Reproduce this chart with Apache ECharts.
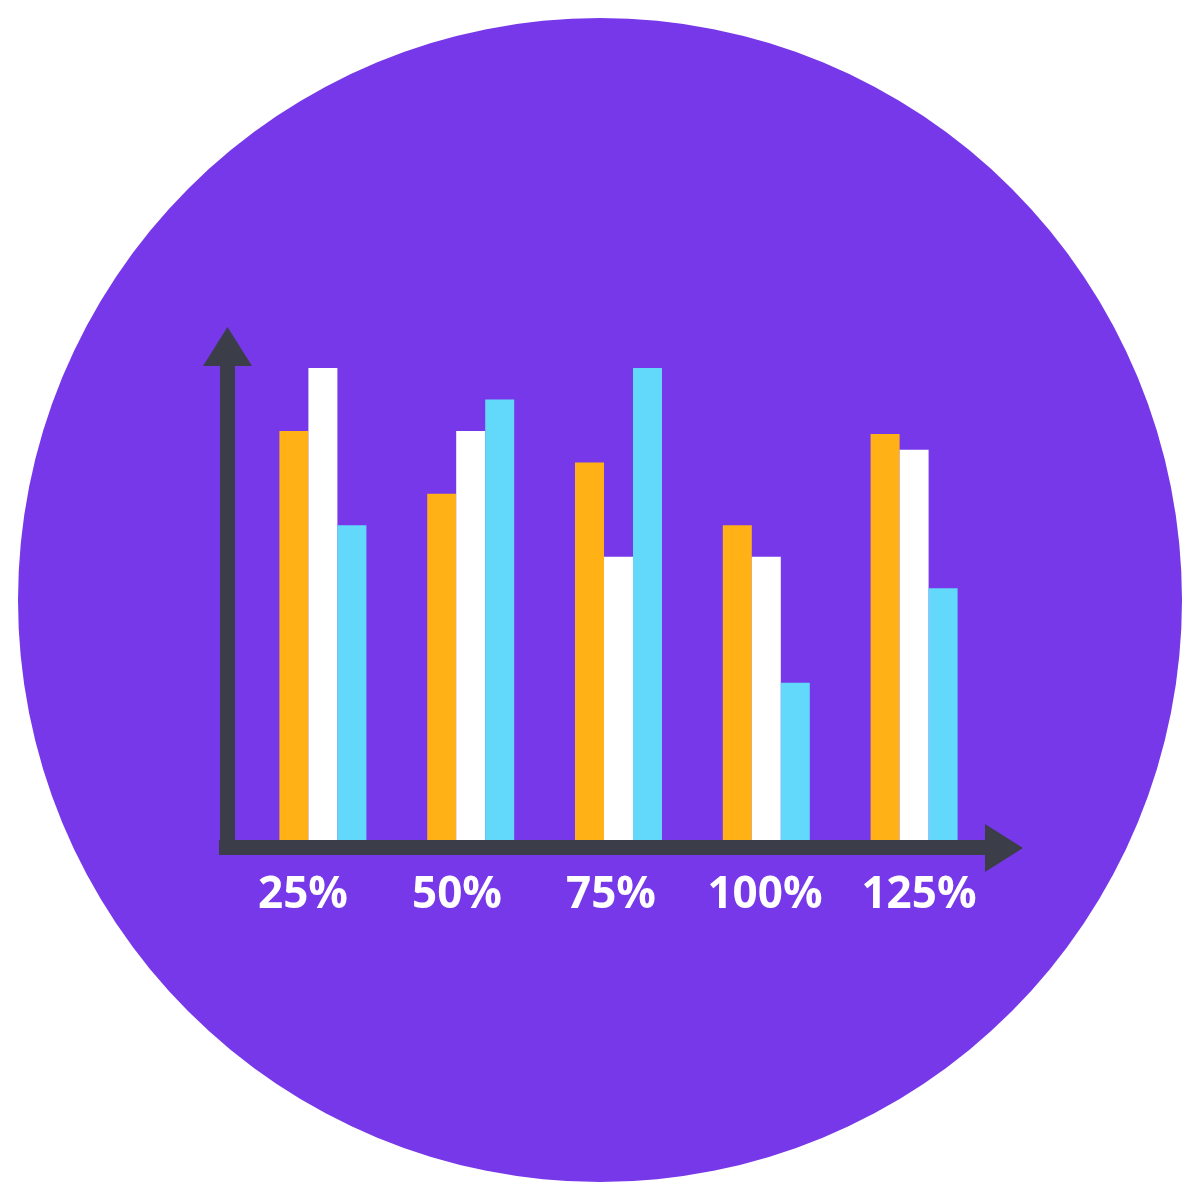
<!DOCTYPE html>
<html><head><meta charset="utf-8">
<script src="https://cdn.jsdelivr.net/npm/echarts@6/dist/echarts.min.js"></script>
<style>html,body{margin:0;padding:0;background:#fff}#c{width:1200px;height:1200px}</style>
</head><body><div id="c"></div>
<script>
const categories = ['25%', '50%', '75%', '100%', '125%'];
const seriesOrange = [13, 11, 12, 10, 12.9];
const seriesWhite = [15, 13, 9, 9, 12.4];
const seriesCyan = [10, 14, 15, 5, 8];

const chart = echarts.init(document.getElementById('c'), null, {renderer: 'canvas'});
const dark = '#3b3e48';
chart.setOption({
  backgroundColor: '#ffffff',
  animation: false,
  graphic: [
    {type: 'circle', shape: {cx: 600, cy: 600, r: 582}, style: {fill: '#7638e9'}, z: -10},
    {type: 'rect', shape: {x: 219, y: 840, width: 772, height: 15}, style: {fill: dark}, z: 10},
    {type: 'polygon', shape: {points: [[985, 824], [1023, 848], [985, 872]]}, style: {fill: dark}, z: 10},
    {type: 'rect', shape: {x: 220, y: 364, width: 15, height: 491}, style: {fill: dark}, z: 10},
    {type: 'polygon', shape: {points: [[203, 366], [227.5, 327], [252, 366]]}, style: {fill: dark}, z: 10}
  ],
  grid: [
    {left: 249, right: 212, top: 368, bottom: 360},
    {left: 226, right: 204, top: 368, bottom: 360}
  ],
  xAxis: [
    {type: 'category', data: categories, gridIndex: 0,
     axisLine: {show: false}, axisTick: {show: false}, axisLabel: {show: false}, splitLine: {show: false}},
    {type: 'category', data: categories, gridIndex: 1,
     axisLine: {show: false}, axisTick: {show: false}, splitLine: {show: false},
     axisLabel: {show: true, color: '#ffffff', fontFamily: 'Open Sans', fontWeight: 'bold', fontSize: 44, margin: 33}}
  ],
  yAxis: [
    {type: 'value', min: 0, max: 15, gridIndex: 0, show: false, splitLine: {show: false}},
    {type: 'value', min: 0, max: 15, gridIndex: 1, show: false, splitLine: {show: false}}
  ],
  series: [
    {type: 'bar', data: seriesOrange, barWidth: 29, barGap: '0%', itemStyle: {color: '#ffb116'}},
    {type: 'bar', data: seriesWhite, barWidth: 29, barGap: '0%', itemStyle: {color: '#ffffff'}},
    {type: 'bar', data: seriesCyan, barWidth: 29, barGap: '0%', itemStyle: {color: '#62d9fa'}},
    {type: 'bar', data: [], xAxisIndex: 1, yAxisIndex: 1}
  ]
});
</script></body></html>
